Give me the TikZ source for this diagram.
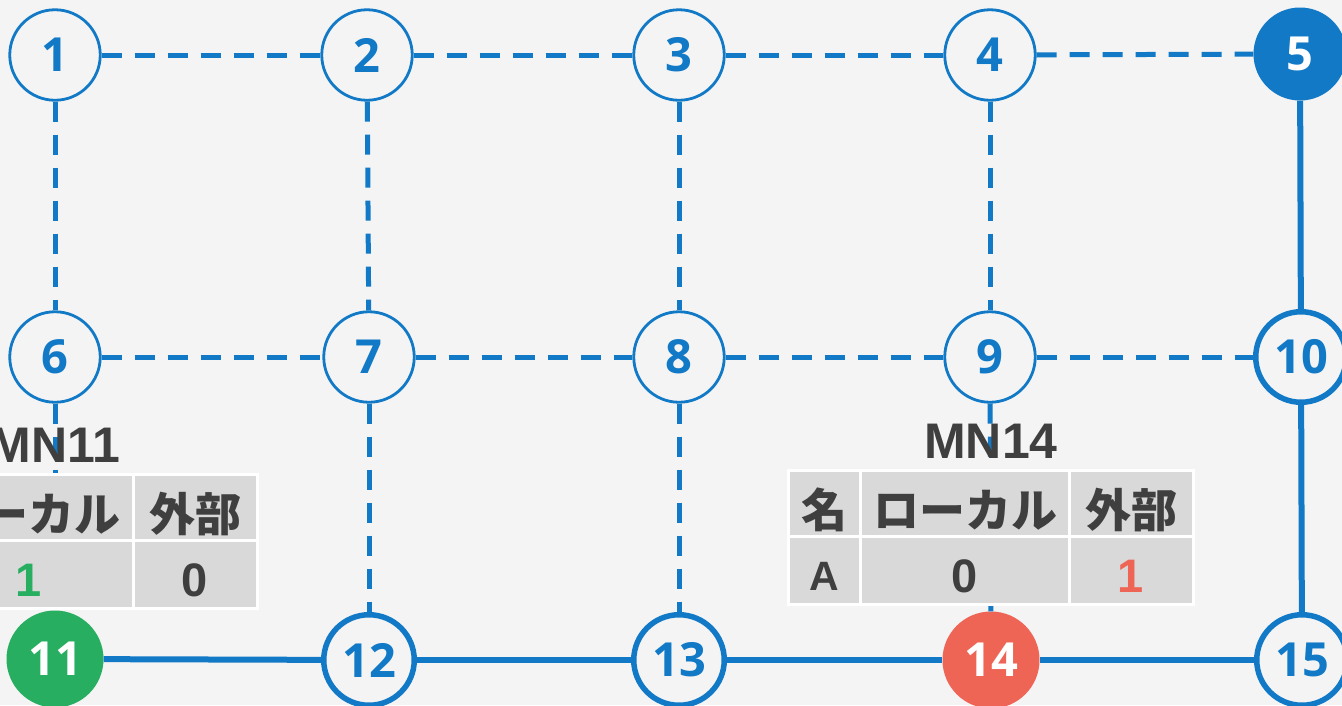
\documentclass[tikz,border=0pt]{standalone}
\usepackage{fontspec}
\setmainfont{Liberation Sans}
\newfontfamily\num{Open Sans}
\newfontfamily\jp{Noto Sans CJK JP Black}
\definecolor{bg}{RGB}{244,244,244}
\definecolor{myblue}{RGB}{17,121,198}
\definecolor{mygreen}{RGB}{39,174,96}
\definecolor{myred}{RGB}{238,100,85}
\definecolor{dark}{RGB}{63,63,63}
\definecolor{cell}{RGB}{217,217,217}
\tikzset{
  nd/.style={circle, inner sep=0pt, minimum size=90.5pt, fill=bg, text=myblue,
    font=\num\bfseries\fontsize{47}{47}\selectfont},
  ndthin/.style={nd, draw=myblue, line width=2.8pt},
  ndthick/.style={nd, draw=myblue, line width=5.5pt},
  ndfill/.style={nd, minimum size=97pt, text=white},
  dedge/.style={draw=myblue, line width=5pt, dash pattern=on 20pt off 13pt},
  sedge/.style={draw=myblue, line width=6pt},
  cellbox/.style={fill=cell, draw=white, line width=3pt},
  ctext/.style={text=dark, font=\bfseries\fontsize{41}{41}\selectfont, inner sep=0pt},
  dtext/.style={text=dark, font=\bfseries\fontsize{47}{47}\selectfont, inner sep=0pt},
  jtext/.style={text=dark, font=\jp\fontsize{46}{46}\selectfont, inner sep=0pt},
  ttl/.style={text=dark, font=\bfseries\fontsize{50}{50}\selectfont, inner sep=0pt}
}
\newcommand{\mntable}[6]{%
  % #1 dx, #2 dy, #3 title, #4 local value, #5 external value, #6 name prefix
  \begin{scope}[shift={(#1,#2)}]
    \path[cellbox] (788,470) rectangle (860.5,536.5);
    \path[cellbox] (860.5,470) rectangle (1069,536.5);
    \path[cellbox] (1069,470) rectangle (1193,536.5);
    \path[cellbox] (788,536.5) rectangle (860.5,604);
    \path[cellbox] (860.5,536.5) rectangle (1069,604);
    \path[cellbox] (1069,536.5) rectangle (1193,604);
    \node[ttl] (#6title) at (991,441) {#3};
    \node[jtext] (#6h1) at (824.5,510) {名};
    \node[jtext] (#6h2) at (965,510) {ローカル};
    \node[jtext] (#6h3) at (1131,510) {外部};
    \node[ctext] (#6d1) at (824.5,576) {A};
    \node[dtext] (#6d2) at (965,576) {#4};
    \node[dtext] (#6d3) at (1131,576) {#5};
  \end{scope}}
\begin{document}
\begin{tikzpicture}[x=1pt,y=-1pt]
\useasboundingbox (0,0) rectangle (1342,705);
\fill[bg] (0,0) rectangle (1342,705);
\clip (0,0) rectangle (1342,705);
% nodes
\node[ndthin] (n1) at (55,55) {1};
\node[ndthin] (n2) at (367,55) {2};
\node[ndthin] (n3) at (679,55) {3};
\node[ndthin] (n4) at (990,55) {4};
\node[nd, minimum size=93pt, fill=myblue, text=white] (n5) at (1300,54) {5};
\node[ndthin] (n6) at (55,357) {6};
\node[ndthin] (n7) at (369,357) {7};
\node[ndthin] (n8) at (679,357) {8};
\node[ndthin] (n9) at (990,357) {9};
\node[ndthick] (n10) at (1301,357) {10};
\node[ndfill, fill=mygreen] (n11) at (55,659) {11};
\node[ndthick] (n12) at (369,660) {12};
\node[ndthick] (n13) at (679,660) {13};
\node[ndfill, fill=myred] (n14) at (991,660) {14};
\node[ndthick] (n15) at (1302,660) {15};
% dashed edges
\draw[dedge] (n1) -- (n2);
\draw[dedge] (n2) -- (n3);
\draw[dedge] (n3) -- (n4);
\draw[dedge] (n4) -- (n5);
\draw[dedge] (n1) -- (n6);
\draw[dedge] (n2) -- (n7);
\draw[dedge] (n3) -- (n8);
\draw[dedge] (n4) -- (n9);
\draw[dedge] (n6) -- (n7);
\draw[dedge] (n7) -- (n8);
\draw[dedge] (n8) -- (n9);
\draw[dedge] (n9) -- (n10);
\draw[dedge] (n6) -- (n11);
\draw[dedge] (n7) -- (n12);
\draw[dedge] (n8) -- (n13);
\draw[dedge] (n9) -- (n14);
% solid edges
\draw[sedge] (n5) -- (n10);
\draw[sedge] (n10) -- (n15);
\draw[sedge] (n11) -- (n12);
\draw[sedge] (n12) -- (n13);
\draw[sedge] (n13) -- (n14);
\draw[sedge] (n14) -- (n15);
% tables
\mntable{-936}{4}{MN11}{\textcolor{mygreen}{1}}{0}{ta}
\mntable{0}{0}{MN14}{0}{\textcolor{myred}{1}}{tb}
\end{tikzpicture}
\end{document}
